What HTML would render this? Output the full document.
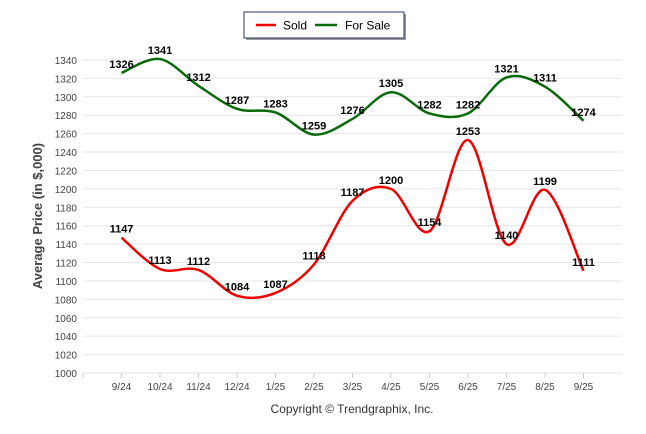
<!DOCTYPE html>
<html><head><meta charset="utf-8"><style>
body{margin:0;background:#fff;font-family:"Liberation Sans",sans-serif}
svg{display:block}
</style></head><body>
<svg id="c" width="646" height="434">
<g>
<rect x="246" y="14" width="160" height="26" fill="#333" opacity="0.5"/>
<rect x="244" y="12" width="160" height="26" fill="#fff" stroke="#2a3a6a" stroke-width="1"/>
<line x1="256" y1="25" x2="276" y2="25" stroke="#e00" stroke-width="2.5"/>
<text x="283" y="29.5" font-size="12" fill="#000">Sold</text>
<line x1="315" y1="25" x2="337" y2="25" stroke="#0a6a0a" stroke-width="2.5"/>
<text x="345" y="29.5" font-size="12" fill="#000">For Sale</text>
</g>
<text transform="translate(42,216) rotate(-90)" text-anchor="middle" font-size="13" font-weight="bold" fill="#444">Average Price (in $,000)</text>
<text x="352" y="413" text-anchor="middle" font-size="12" fill="#333">Copyright © Trendgraphix, Inc.</text>
<g id="grid"></g><g id="lines"></g><g id="labels"></g>
</svg>
<script>
const categories=["9/24","10/24","11/24","12/24","1/25","2/25","3/25","4/25","5/25","6/25","7/25","8/25","9/25"];
const sold=[1147,1113,1112,1084,1087,1118,1187,1200,1154,1253,1140,1199,1111];
const forSale=[1326,1341,1312,1287,1283,1259,1276,1305,1282,1282,1321,1311,1274];
const yTicks=[1000,1020,1040,1060,1080,1100,1120,1140,1160,1180,1200,1220,1240,1260,1280,1300,1320,1340];
const NS="http://www.w3.org/2000/svg";
const L=83,R=622,step=(R-L)/14;
const x=i=>L+step*(i+1);
const y=v=>373-(v-1000)*(313/340);
function el(t,a,p){const e=document.createElementNS(NS,t);for(const k in a)e.setAttribute(k,a[k]);p.appendChild(e);return e;}
const g=document.getElementById('grid');
yTicks.forEach(v=>{
 const ln=el('line',{x1:L,x2:R,y1:y(v),y2:y(v),stroke:'#e6e6e6'},g);
 
 
 const t=el('text',{x:L-6,y:y(v)+4,'text-anchor':'end','font-size':'10',fill:'#444'},g);t.textContent=v;
 
 
});
el('line',{x1:L,x2:L,y1:373,y2:378,stroke:'#ccc'},g);
categories.forEach((c,i)=>{
 el('line',{x1:x(i),x2:x(i),y1:373,y2:378,stroke:'#ccc'},g);
 const t=el('text',{x:x(i),y:390,'text-anchor':'middle','font-size':'10',fill:'#444'},g);t.textContent=c;
 
 
});
function path(vals){
 const p=vals.map((v,i)=>[x(i),y(v)]);
 let d='M'+p[0][0]+','+p[0][1];
 for(let i=0;i<p.length-1;i++){
  const p0=p[i-1]||p[i],p1=p[i],p2=p[i+1],p3=p[i+2]||p2;
  const c1=[p1[0]+(p2[0]-p0[0])/6,p1[1]+(p2[1]-p0[1])/6];
  const c2=[p2[0]-(p3[0]-p1[0])/6,p2[1]-(p3[1]-p1[1])/6];
  d+=' C'+c1+' '+c2+' '+p2;
 }
 return d;
}
const lg=document.getElementById('lines'),lb=document.getElementById('labels');
[[sold,'#e00','sold'],[forSale,'#0a6a0a','for-sale']].forEach(([vals,col,n])=>{
 const p=el('path',{d:path(vals),fill:'none',stroke:col,'stroke-width':2.5},lg);
 
 
 vals.forEach((v,i)=>{
  const t=el('text',{x:x(i),y:y(v)-5,'text-anchor':'middle','font-size':'11','font-weight':'bold',fill:'#000'},lb);t.textContent=v;
  
  
 });
});
</script>
</body></html>
